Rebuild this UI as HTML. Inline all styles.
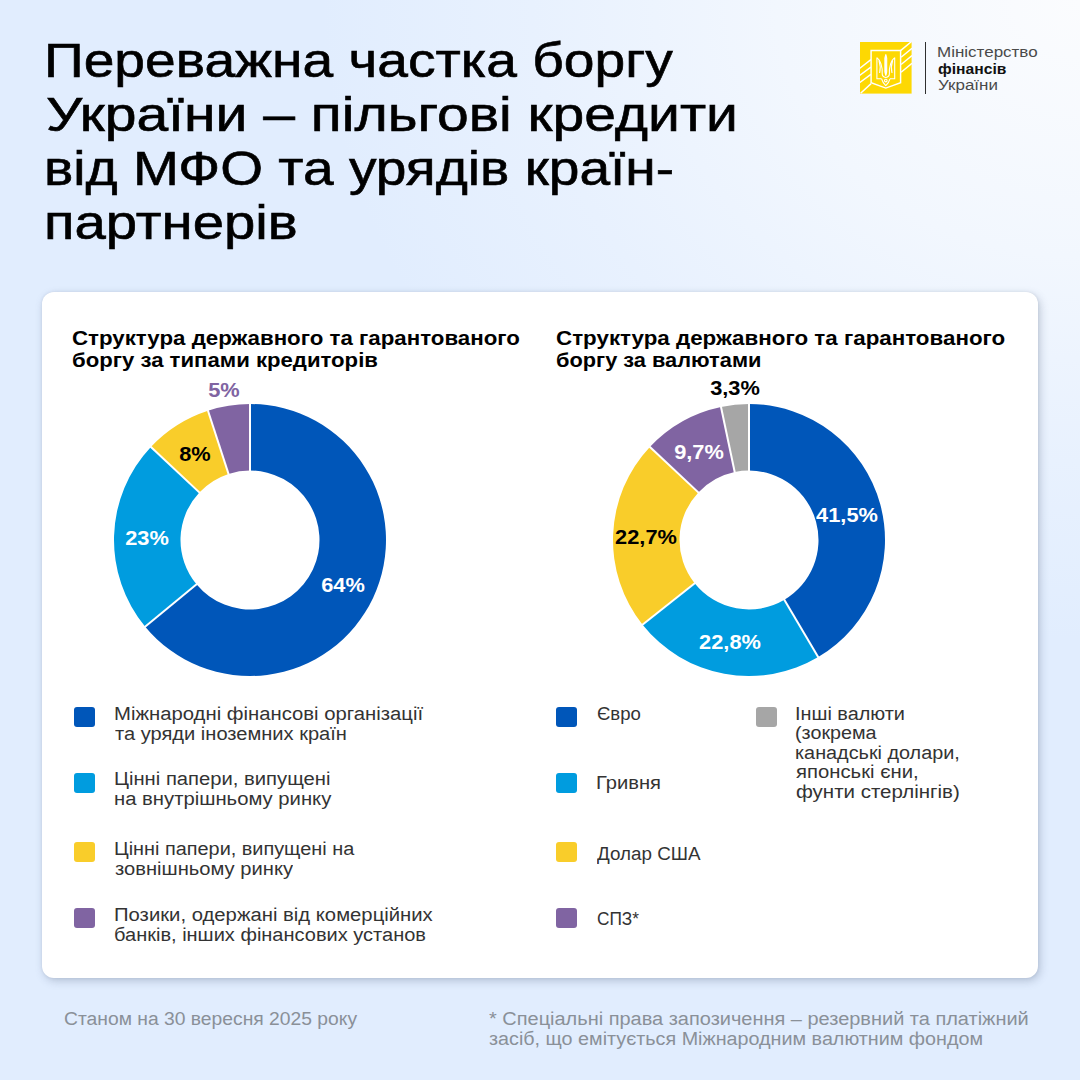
<!DOCTYPE html>
<html lang="uk">
<head>
<meta charset="utf-8">
<style>
*{margin:0;padding:0;box-sizing:border-box}
html,body{width:1080px;height:1080px;overflow:hidden}
body{position:relative;font-family:"Liberation Sans",sans-serif;background:#E1EDFE;}
.glow{position:absolute;left:0;top:0;width:1080px;height:1080px;background:radial-gradient(ellipse 760px 640px at 1080px 0px, #FBFCFE 0%, #F2F7FE 40%, #E8F1FE 72%, rgba(225,237,254,0) 100%);}
.t{position:absolute;white-space:nowrap;transform-origin:0 0}
.card{position:absolute;left:42px;top:292px;width:996px;height:686px;background:#fff;border-radius:12px;box-shadow:2px 3px 9px rgba(90,105,135,0.32), 0 0 3px rgba(90,105,135,0.14);}
.sq{position:absolute;width:21px;height:20px;border-radius:3px}
</style>
</head>
<body>
<div class="glow"></div>
<div class="card"></div>
<svg style='position:absolute;left:860.4px;top:42.2px' width='51.6' height='51.6' viewBox='0 0 51.6 51.6'><rect width='51.6' height='51.6' fill='#FDD803'/><g stroke='#fff' stroke-width='1.45' fill='none' stroke-linecap='butt' stroke-linejoin='miter'><path d='M40.6,8.6 L52.4,-1.2 M41.1,15.3 L52,6.3 M41.1,22.5 L52,13.6 M41.1,30.3 L52,21.2'/><path d='M-0.5,26.5 L10.9,17.7 M-0.5,33.5 L10.9,25.1 M-0.5,40.7 L10.9,32.4 M0.6,51.2 L11.1,41.6'/><path d='M11.1,8.6 H40.6 V40.8 L25.8,46.1 L11.1,40.8 Z' fill='#FDD803'/></g><g stroke='#fff' stroke-width='1.1' fill='none'><path d='M16.9,15.6 V36.8 H21.6 M34.7,15.6 V36.8 H30 M16.9,15.6 C20.3,18 22.6,24.5 22.2,31.5 C22.1,33.5 23.5,35 25.8,35.5 M34.7,15.6 C31.3,18 29,24.5 29.4,31.5 C29.5,33.5 28.1,35 25.8,35.5 M21.6,36.8 C22.6,40.3 24.3,42.3 25.8,43.6 C27.3,42.3 29,40.3 30,36.8'/><path d='M25.8,12.5 L24.9,16 L24.9,30 L25.8,33.6 L26.7,30 L26.7,16 Z' fill='#fff'/><path d='M19,18.5 C20.2,22 20.5,27 19.6,31 M32.6,18.5 C31.4,22 31.1,27 32,31'/><circle cx='25.8' cy='38.6' r='1.3'/></g></svg>
<div style="position:absolute;left:925px;top:42px;width:1.3px;height:52px;background:#2f2f2f"></div>
<svg style="position:absolute;left:0;top:0" width="1080" height="1080" viewBox="0 0 1080 1080">
<path d="M250.00,404.00A136,136 0 1 1 145.21,626.69L196.45,584.30A69.5,69.5 0 1 0 250.00,470.50Z" fill="#0056B9"/>
<path d="M145.21,626.69A136,136 0 0 1 150.86,446.90L199.34,492.42A69.5,69.5 0 0 0 196.45,584.30Z" fill="#009CDF"/>
<path d="M150.86,446.90A136,136 0 0 1 207.97,410.66L228.52,473.90A69.5,69.5 0 0 0 199.34,492.42Z" fill="#F9CD2A"/>
<path d="M207.97,410.66A136,136 0 0 1 250.00,404.00L250.00,470.50A69.5,69.5 0 0 0 228.52,473.90Z" fill="#8064A2"/>
<line x1="250.00" y1="471.50" x2="250.00" y2="403.00" stroke="#fff" stroke-width="2.0"/>
<line x1="197.22" y1="583.66" x2="144.44" y2="627.33" stroke="#fff" stroke-width="2.0"/>
<line x1="200.07" y1="493.11" x2="150.13" y2="446.22" stroke="#fff" stroke-width="2.0"/>
<line x1="228.83" y1="474.85" x2="207.66" y2="409.71" stroke="#fff" stroke-width="2.0"/>
<path d="M749.00,404.00A136,136 0 0 1 818.23,657.06L784.38,599.82A69.5,69.5 0 0 0 749.00,470.50Z" fill="#0056B9"/>
<path d="M818.23,657.06A136,136 0 0 1 642.59,624.70L694.62,583.28A69.5,69.5 0 0 0 784.38,599.82Z" fill="#009CDF"/>
<path d="M642.59,624.70A136,136 0 0 1 649.86,446.90L698.34,492.42A69.5,69.5 0 0 0 694.62,583.28Z" fill="#F9CD2A"/>
<path d="M649.86,446.90A136,136 0 0 1 721.00,406.91L734.69,471.99A69.5,69.5 0 0 0 698.34,492.42Z" fill="#8064A2"/>
<path d="M721.00,406.91A136,136 0 0 1 749.00,404.00L749.00,470.50A69.5,69.5 0 0 0 734.69,471.99Z" fill="#A6A6A6"/>
<line x1="749.00" y1="471.50" x2="749.00" y2="403.00" stroke="#fff" stroke-width="2.0"/>
<line x1="783.87" y1="598.96" x2="818.74" y2="657.92" stroke="#fff" stroke-width="2.0"/>
<line x1="695.41" y1="582.66" x2="641.81" y2="625.32" stroke="#fff" stroke-width="2.0"/>
<line x1="699.07" y1="493.11" x2="649.13" y2="446.22" stroke="#fff" stroke-width="2.0"/>
<line x1="734.90" y1="472.97" x2="720.80" y2="405.93" stroke="#fff" stroke-width="2.0"/>
</svg>
<div class="t" style="left:44.15px;top:37.17px;font-size:48px;line-height:48px;color:#000;transform:scaleX(1.1495);-webkit-text-stroke:0.6px #000;">Переважна частка боргу</div>
<div class="t" style="left:46.41px;top:90.97px;font-size:48px;line-height:48px;color:#000;transform:scaleX(1.1888);-webkit-text-stroke:0.6px #000;">України – пільгові кредити</div>
<div class="t" style="left:44.16px;top:144.77px;font-size:48px;line-height:48px;color:#000;transform:scaleX(1.1479);-webkit-text-stroke:0.6px #000;">від МФО та урядів країн-</div>
<div class="t" style="left:44.08px;top:198.77px;font-size:48px;line-height:48px;color:#000;transform:scaleX(1.1724);-webkit-text-stroke:0.6px #000;">партнерів</div>
<div class="t" style="left:72.4px;top:327.77px;font-size:20px;line-height:20px;color:#000;font-weight:bold;transform:scaleX(1.1142);">Структура державного та гарантованого</div>
<div class="t" style="left:72.4px;top:349.97px;font-size:20px;line-height:20px;color:#000;font-weight:bold;transform:scaleX(1.1074);">боргу за типами кредиторів</div>
<div class="t" style="left:556.0px;top:327.77px;font-size:20px;line-height:20px;color:#000;font-weight:bold;transform:scaleX(1.1176);">Структура державного та гарантованого</div>
<div class="t" style="left:556.0px;top:349.97px;font-size:20px;line-height:20px;color:#000;font-weight:bold;transform:scaleX(1.0891);">боргу за валютами</div>
<div class="t" style="left:113.67px;top:705.36px;font-size:18px;line-height:18px;color:#333333;transform:scaleX(1.1272);">Міжнародні фінансові організації</div>
<div class="t" style="left:114.8px;top:725.06px;font-size:18px;line-height:18px;color:#333333;transform:scaleX(1.1152);">та уряди іноземних країн</div>
<div class="t" style="left:113.68px;top:770.36px;font-size:18px;line-height:18px;color:#333333;transform:scaleX(1.1232);">Цінні папери, випущені</div>
<div class="t" style="left:113.67px;top:790.36px;font-size:18px;line-height:18px;color:#333333;transform:scaleX(1.1252);">на внутрішньому ринку</div>
<div class="t" style="left:113.7px;top:840.36px;font-size:18px;line-height:18px;color:#333333;transform:scaleX(1.1036);">Цінні папери, випущені на</div>
<div class="t" style="left:114.8px;top:860.36px;font-size:18px;line-height:18px;color:#333333;transform:scaleX(1.1195);">зовнішньому ринку</div>
<div class="t" style="left:113.67px;top:905.86px;font-size:18px;line-height:18px;color:#333333;transform:scaleX(1.1261);">Позики, одержані від комерційних</div>
<div class="t" style="left:113.69px;top:925.86px;font-size:18px;line-height:18px;color:#333333;transform:scaleX(1.1116);">банків, інших фінансових установ</div>
<div class="t" style="left:596.5px;top:704.96px;font-size:18px;line-height:18px;color:#333333;transform:scaleX(1.0327);">Євро</div>
<div class="t" style="left:595.88px;top:774.46px;font-size:18px;line-height:18px;color:#333333;transform:scaleX(1.1189);">Гривня</div>
<div class="t" style="left:596.5px;top:845.16px;font-size:18px;line-height:18px;color:#333333;transform:scaleX(1.0451);">Долар США</div>
<div class="t" style="left:596.5px;top:910.36px;font-size:18px;line-height:18px;color:#333333;transform:scaleX(0.9587);">СПЗ*</div>
<div class="t" style="left:795.2px;top:704.76px;font-size:18px;line-height:18px;color:#333333;transform:scaleX(1.1034);">Інші валюти</div>
<div class="t" style="left:795.2px;top:724.26px;font-size:18px;line-height:18px;color:#333333;transform:scaleX(1.0965);">(зокрема</div>
<div class="t" style="left:795.2px;top:743.66px;font-size:18px;line-height:18px;color:#333333;transform:scaleX(1.101);">канадські долари,</div>
<div class="t" style="left:796.3px;top:763.06px;font-size:18px;line-height:18px;color:#333333;transform:scaleX(1.1263);">японські єни,</div>
<div class="t" style="left:796.3px;top:782.56px;font-size:18px;line-height:18px;color:#333333;transform:scaleX(1.1381);">фунти стерлінгів)</div>
<div class="t" style="left:63.9px;top:1010.36px;font-size:18px;line-height:18px;color:#8A9098;transform:scaleX(1.0714);">Станом на 30 вересня 2025 року</div>
<div class="t" style="left:488.9px;top:1010.36px;font-size:18px;line-height:18px;color:#8A9098;transform:scaleX(1.1089);">* Спеціальні права запозичення – резервний та платіжний</div>
<div class="t" style="left:488.9px;top:1029.86px;font-size:18px;line-height:18px;color:#8A9098;transform:scaleX(1.0971);">засіб, що емітується Міжнародним валютним фондом</div>
<div class="t" style="left:937.09px;top:44.75px;font-size:14px;line-height:14px;color:#4a4a4a;transform:scaleX(1.2139);">Міністерство</div>
<div class="t" style="left:937.6px;top:61.55px;font-size:14px;line-height:14px;color:#111;font-weight:bold;transform:scaleX(1.1185);">фінансів</div>
<div class="t" style="left:938.3px;top:78.45px;font-size:14px;line-height:14px;color:#4a4a4a;transform:scaleX(1.2124);">України</div>
<div class="t" style="left:242.8px;top:574.53px;width:200px;text-align:center;transform-origin:50% 50%;font-size:20px;line-height:20px;font-weight:bold;color:#fff;transform:scaleX(1.09);letter-spacing:0px">64%</div>
<div class="t" style="left:46.69999999999999px;top:527.63px;width:200px;text-align:center;transform-origin:50% 50%;font-size:20px;line-height:20px;font-weight:bold;color:#fff;transform:scaleX(1.09);letter-spacing:0px">23%</div>
<div class="t" style="left:95px;top:444.03px;width:200px;text-align:center;transform-origin:50% 50%;font-size:20px;line-height:20px;font-weight:bold;color:#000;transform:scaleX(1.09);letter-spacing:0px">8%</div>
<div class="t" style="left:123.5px;top:379.93px;width:200px;text-align:center;transform-origin:50% 50%;font-size:20px;line-height:20px;font-weight:bold;color:#8064A2;transform:scaleX(1.09);letter-spacing:0px">5%</div>
<div class="t" style="left:747.4px;top:504.63px;width:200px;text-align:center;transform-origin:50% 50%;font-size:20px;line-height:20px;font-weight:bold;color:#fff;transform:scaleX(1.09);letter-spacing:0px">41,5%</div>
<div class="t" style="left:629.8px;top:631.53px;width:200px;text-align:center;transform-origin:50% 50%;font-size:20px;line-height:20px;font-weight:bold;color:#fff;transform:scaleX(1.09);letter-spacing:0px">22,8%</div>
<div class="t" style="left:545.7px;top:526.93px;width:200px;text-align:center;transform-origin:50% 50%;font-size:20px;line-height:20px;font-weight:bold;color:#000;transform:scaleX(1.09);letter-spacing:0px">22,7%</div>
<div class="t" style="left:598.6px;top:441.63px;width:200px;text-align:center;transform-origin:50% 50%;font-size:20px;line-height:20px;font-weight:bold;color:#fff;transform:scaleX(1.09);letter-spacing:0px">9,7%</div>
<div class="t" style="left:634.7px;top:378.03px;width:200px;text-align:center;transform-origin:50% 50%;font-size:20px;line-height:20px;font-weight:bold;color:#000;transform:scaleX(1.09);letter-spacing:0px">3,3%</div>
<div class="sq" style="left:74px;top:707px;background:#0056B9"></div>
<div class="sq" style="left:74px;top:773px;background:#009CDF"></div>
<div class="sq" style="left:74px;top:842px;background:#F9CD2A"></div>
<div class="sq" style="left:74px;top:908px;background:#8064A2"></div>
<div class="sq" style="left:556px;top:707px;background:#0056B9"></div>
<div class="sq" style="left:556px;top:773px;background:#009CDF"></div>
<div class="sq" style="left:556px;top:842px;background:#F9CD2A"></div>
<div class="sq" style="left:556px;top:908px;background:#8064A2"></div>
<div class="sq" style="left:756px;top:707px;background:#A6A6A6"></div>
</body>
</html>
